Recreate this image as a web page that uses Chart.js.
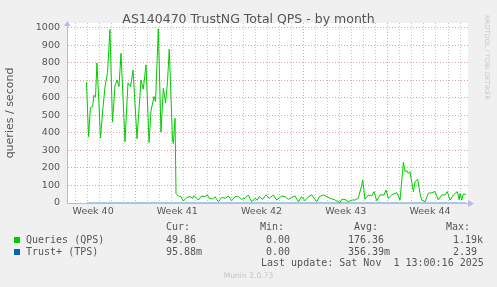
<!DOCTYPE html>
<html>
<head>
<meta charset="utf-8">
<script src="https://cdn.jsdelivr.net/npm/chart.js@4.4.1/dist/chart.umd.min.js"></script>
<style>
  html, body { margin: 0; padding: 0; background: #f0f0f0; }
  #wrap { position: relative; width: 497px; height: 287px; overflow: hidden; }
  canvas { position: absolute; left: 0; top: 0; }
  .title { position: absolute; left: 0; top: 11px; width: 497px; text-align: center;
    font: 12.5px 'DejaVu Sans', sans-serif; line-height: 15px; color: #555; }
  .mono { position: absolute; white-space: pre; color: #555;
    font: 10px 'DejaVu Sans Mono', monospace; line-height: 12px; }
  .sw { position: absolute; width: 6px; height: 6px; }
  .stamp { position: absolute; left: 483px; top: 15px; writing-mode: vertical-rl;
    font: 6.6px 'DejaVu Sans', sans-serif; color: #c8c8c8; white-space: pre; }
  .ver { position: absolute; left: 0; top: 271px; width: 497px; text-align: center;
    font: 7.6px 'DejaVu Sans', sans-serif; color: #c4c4c4; }
</style>
</head>
<body>
<div id="wrap">
  <canvas id="c" width="497" height="287"></canvas>
  <div class="title">AS140470 TrustNG Total QPS - by month</div>
  <div class="stamp">RRDTOOL / TOBI OETIKER</div>

  <div class="mono" style="left:166px;top:221px">Cur:</div>
  <div class="mono" style="left:260px;top:221px">Min:</div>
  <div class="mono" style="left:354px;top:221px">Avg:</div>
  <div class="mono" style="left:446px;top:221px">Max:</div>

  <div class="sw" style="left:14px;top:237px;background:#00cc00"></div>
  <div class="mono" style="left:26px;top:234px">Queries (QPS)</div>
  <div class="mono" style="left:166px;top:234px">49.86</div>
  <div class="mono" style="left:266px;top:234px">0.00</div>
  <div class="mono" style="left:348px;top:234px">176.36</div>
  <div class="mono" style="left:453px;top:234px">1.19k</div>

  <div class="sw" style="left:14px;top:249px;background:#0066b3"></div>
  <div class="mono" style="left:26px;top:246px">Trust+ (TPS)</div>
  <div class="mono" style="left:166px;top:246px">95.88m</div>
  <div class="mono" style="left:266px;top:246px">0.00</div>
  <div class="mono" style="left:348px;top:246px">356.39m</div>
  <div class="mono" style="left:453px;top:246px">2.39</div>

  <div class="mono" style="left:261px;top:257px">Last update: Sat Nov  1 13:00:16 2025</div>
  <div class="ver">Munin 2.0.73</div>
</div>
<script>
// x values are days since Mon 29 Sep 2025 00:00 (start of week 40)
const qpsDays = [
  2.95, 3.12, 3.28, 3.45, 3.57, 3.70, 3.82, 3.99, 4.11, 4.32, 4.49, 4.70, 4.90, 5.11,
  5.32, 5.49, 5.65, 5.82, 6.15, 6.40, 6.61, 6.82, 7.15, 7.48, 7.67, 7.90, 8.15, 8.31,
  8.56, 8.69, 8.92, 9.14, 9.34, 9.52, 9.68, 9.83, 10.10, 10.17, 10.31, 10.39,
  10.58, 10.81, 11.00, 11.28, 11.55, 11.78, 11.89, 12.24, 12.53, 12.80, 12.99, 13.16,
  13.44, 13.63, 13.91, 14.19, 14.46, 14.74, 15.02, 15.30, 15.57, 15.85, 16.13, 16.40,
  16.68, 16.96, 17.15, 17.32, 17.60, 17.87, 18.15, 18.48, 18.76, 19.18, 19.45, 19.73,
  20.01, 20.28, 20.56, 20.84, 21.11, 21.39, 21.67, 22.09, 22.30, 22.64, 22.92, 23.19,
  23.61, 24.02, 24.16, 24.44, 24.71, 25.00, 25.27, 25.54, 25.83, 25.91, 26.10, 26.38,
  26.66, 26.85, 27.07, 27.35, 27.68, 27.85, 28.04, 28.32, 28.74, 29.01, 29.29, 29.43,
  29.57, 29.70, 29.84, 29.98, 30.12, 30.26, 30.48, 30.67, 30.81, 31.09, 31.36, 31.65,
  31.92, 32.19, 32.48, 32.75, 32.94, 33.17, 33.44, 33.77, 33.94, 34.00, 34.14, 34.25, 34.50
];
const qpsValues = [
  690, 379, 545, 550, 615, 606, 800, 560, 372, 545, 665, 745, 990, 462,
  670, 703, 665, 855, 350, 686, 665, 760, 368, 703, 650, 789, 345, 525,
  608, 580, 995, 405, 655, 572, 690, 878, 365, 340, 484, 55,
  40, 36, 11, 32, 36, 27, 42, 17, 40, 36, 46, 27,
  23, 36, 7, 32, 27, 40, 13, 36, 36, 21, 27, 46,
  7, 27, 17, 36, 21, 46, 27, 46, 17, 40, 36, 21,
  32, 40, 7, 36, 13, 36, 46, 7, 36, 46, 36, 27,
  17, 2, 21, 21, 7, 17, 17, 27, 103, 131, 21, 46,
  40, 65, 13, 46, 46, 74, 27, 46, 59, 17, 232, 179,
  185, 169, 179, 122, 65, 122, 135, 55, 17, 7, 55, 59,
  65, 17, 46, 46, 65, 17, 46, 65, 17, 55, 17, 50, 50
];
const tpsDays = [2.95, 10.39, 18.0, 26.0, 34.50];
const tpsValues = [0.3, 0.4, 0.3, 0.4, 0.1];

const weekMids = [3.5, 10.5, 17.5, 24.5, 31.5];
const weekLabels = ['Week 40', 'Week 41', 'Week 42', 'Week 43', 'Week 44'];

const textColor = '#555';
const minorGrid = '#c4c4c4';
const majorGrid = '#e6a0a0';
const axisColor = '#b4bbea';
const sans = "'DejaVu Sans', sans-serif";

const plotBg = {
  id: 'plotBg',
  beforeDraw(chart) {
    const { ctx, chartArea: a } = chart;
    ctx.save();
    ctx.fillStyle = '#ffffff';
    ctx.fillRect(a.left, a.top, a.right - a.left, a.bottom - a.top);
    ctx.restore();
  },
  afterDraw(chart) {
    const { ctx, chartArea: a } = chart;
    ctx.save();
    ctx.fillStyle = axisColor;
    ctx.beginPath();
    ctx.moveTo(a.left - 3, a.top + 3);
    ctx.lineTo(a.left + 3.5, a.top + 3);
    ctx.lineTo(a.left + 0.5, a.top - 2);
    ctx.fill();
    ctx.beginPath();
    ctx.moveTo(a.right, a.bottom - 3);
    ctx.lineTo(a.right, a.bottom + 4);
    ctx.lineTo(a.right + 6, a.bottom + 0.5);
    ctx.fill();
    ctx.restore();
  }
};

new Chart(document.getElementById('c'), {
  type: 'line',
  data: {
    datasets: [
      {
        label: 'Queries (QPS)',
        data: qpsDays.map((d, i) => ({ x: d, y: qpsValues[i] })),
        borderColor: '#00cc00', borderWidth: 1, pointRadius: 0, tension: 0, fill: false
      },
      {
        label: 'Trust+ (TPS)',
        data: tpsDays.map((d, i) => ({ x: d, y: tpsValues[i] })),
        borderColor: 'rgba(0,102,179,0.6)', borderWidth: 1, pointRadius: 0, tension: 0, fill: false
      }
    ]
  },
  options: {
    responsive: false, animation: false,
    layout: { padding: { top: 23, right: 29, left: 0, bottom: 0 } },
    plugins: { legend: { display: false }, tooltip: { enabled: false } },
    scales: {
      x: {
        type: 'linear', min: 1.33, max: 34.66,
        afterFit: s => { s.height = 84; },
        afterBuildTicks: s => {
          const t = [];
          for (let d = 2; d <= 34; d++) t.push({ value: d });
          weekMids.forEach(v => t.push({ value: v }));
          t.sort((a, b) => a.value - b.value);
          s.ticks = t;
        },
        grid: {
          drawTicks: false,
          color: ctx => {
            const v = ctx.tick.value;
            if (weekMids.includes(v)) return 'rgba(0,0,0,0)';
            return v % 7 === 0 ? majorGrid : minorGrid;
          }
        },
        border: { color: axisColor, dash: [1, 2] },
        ticks: {
          autoSkip: false, maxRotation: 0, padding: 3, color: textColor,
          font: { family: sans, size: 9.5 },
          callback: v => { const i = weekMids.indexOf(v); return i >= 0 ? weekLabels[i] : ''; }
        }
      },
      y: {
        min: 0, max: 1028,
        afterFit: s => { s.width = 67; },
        afterBuildTicks: s => {
          const t = [];
          for (let v = 0; v <= 1000; v += 50) t.push({ value: v });
          s.ticks = t;
        },
        grid: {
          drawTicks: false,
          color: ctx => ctx.tick.value % 100 === 0 ? majorGrid : minorGrid
        },
        border: { color: axisColor, dash: [1, 2] },
        ticks: {
          padding: 7, color: textColor, font: { family: sans, size: 9.5 },
          callback: v => v % 100 === 0 ? v : ''
        },
        title: {
          display: true, text: 'queries / second', color: textColor,
          font: { family: sans, size: 11 }, padding: { top: 4, bottom: 0 }
        }
      }
    }
  },
  plugins: [plotBg]
});
</script>
</body>
</html>
